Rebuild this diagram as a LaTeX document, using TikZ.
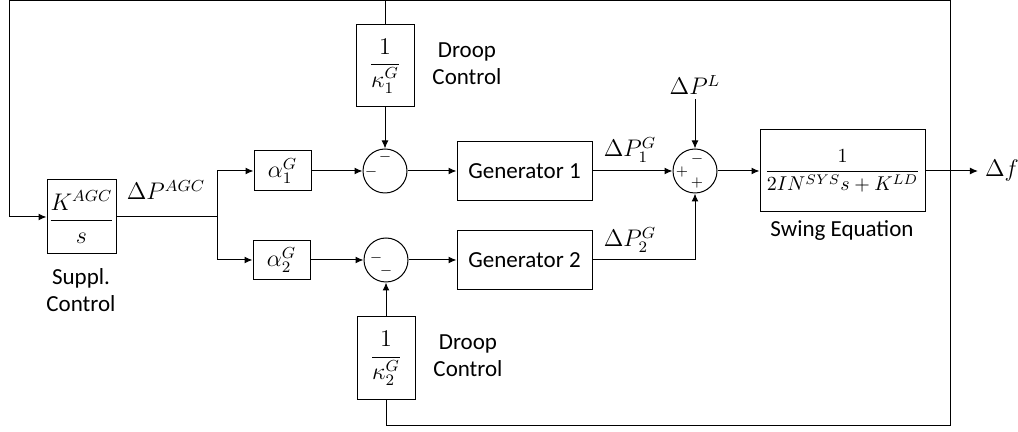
\documentclass[tikz,border=0pt]{standalone}
\usepackage{amsmath}
\usepackage{fontspec}
\setmainfont{Carlito}
\usetikzlibrary{arrows.meta}
\begin{document}
\begin{tikzpicture}[x=0.5pt,y=-0.5pt,line width=0.5pt,
  font=\fontsize{11.5}{13.5}\selectfont,
  block/.style={draw,inner sep=0pt},
  summer/.style={draw,circle,inner sep=0pt,minimum size=22pt},
  sign/.style={inner sep=0pt,font=\fontsize{7}{8}\selectfont},
  lbl/.style={inner sep=2pt},
  flow/.style={-{Latex[length=4pt,width=3.4pt]}}]
\useasboundingbox (0,0) rectangle (1018,432);

% blocks
\node[block,minimum width=34.5pt,minimum height=37pt] (supp) at (81.5,217) {$\dfrac{K^{AGC}}{s}$};
\node[block,minimum width=29pt,minimum height=41pt] (droopA) at (385,66) {$\dfrac{1}{\kappa_1^G}$};
\node[block,minimum width=29pt,minimum height=41.5pt] (droopB) at (386,358.5) {$\dfrac{1}{\kappa_2^G}$};
\node[block,minimum width=28.5pt,minimum height=20pt] (alphaA) at (282.5,171) {$\alpha_1^G$};
\node[block,minimum width=28.5pt,minimum height=19.5pt] (alphaB) at (281.5,260) {$\alpha_2^G$};
\node[block,minimum width=67.5pt,minimum height=29.5pt] (genA) at (524.5,171) {Generator 1};
\node[block,minimum width=67.5pt,minimum height=29.5pt] (genB) at (524.5,260) {Generator 2};
\node[block,minimum width=82.5pt,minimum height=41pt,font=\fontsize{9.8}{12}\selectfont] (swing) at (842.5,171) {$\dfrac{1}{2IN^{SYS}s+K^{LD}}$};

% summing points
\node[summer] (sumA) at (385,171) {};
\node[summer] (sumB) at (386,260) {};
\node[summer] (sumC) at (695,171) {};
\node[sign] (sAt) at (385,157) {$-$};
\node[sign] (sAl) at (371,172) {$-$};
\node[sign] (sBl) at (376,258) {$-$};
\node[sign] (sBb) at (386,271) {$-$};
\node[sign] (sCl) at (682,172) {$+$};
\node[sign] (sCt) at (697,159) {$-$};
\node[sign] (sCb) at (697,183) {$+$};

% texts
\node[align=center] (suppTxt) at (81,290) {Suppl.\\Control};
\node[align=center] (droopTxtA) at (467,64) {Droop\\Control};
\node[align=center] (droopTxtB) at (468,356) {Droop\\Control};
\node (swingTxt) at (842,231) {Swing Equation};
\node[lbl] (pagc) at (166,190) {$\Delta P^{AGC}$};
\node[lbl] (pA) at (630,150) {$\Delta P_1^G$};
\node[lbl] (pB) at (630,240) {$\Delta P_2^G$};
\node[lbl] (pL) at (695,85) {$\Delta P^L$};
\node (df) at (1002,171) {$\Delta f$};

\coordinate (fork) at (217,217);
\coordinate (tap) at (950,171);
\coordinate (tr) at (950,1);
\coordinate (tl) at (9,1);
\coordinate (br) at (950,426);

% forward path
\draw (supp) -- (fork);
\draw[flow] (fork) |- (alphaA);
\draw[flow] (fork) |- (alphaB);
\draw[flow] (alphaA) -- (sumA);
\draw[flow] (alphaB) -- (sumB);
\draw[flow] (sumA) -- (genA);
\draw[flow] (sumB) -- (genB);
\draw[flow] (genA) -- (sumC);
\draw[flow] (genB) -| (sumC);
\draw[flow] (pL) -- (sumC);
\draw[flow] (sumC) -- (swing);
\draw[flow] (swing) -- (df);

% feedback
\draw (tap) -- (tr) -- (tl);
\draw[flow] (tl) |- (supp);
\draw (droopA) -- (droopA |- tr);
\draw[flow] (droopA) -- (sumA);
\draw (droopB) |- (br) -- (tap);
\draw[flow] (droopB) -- (sumB);
\end{tikzpicture}
\end{document}
